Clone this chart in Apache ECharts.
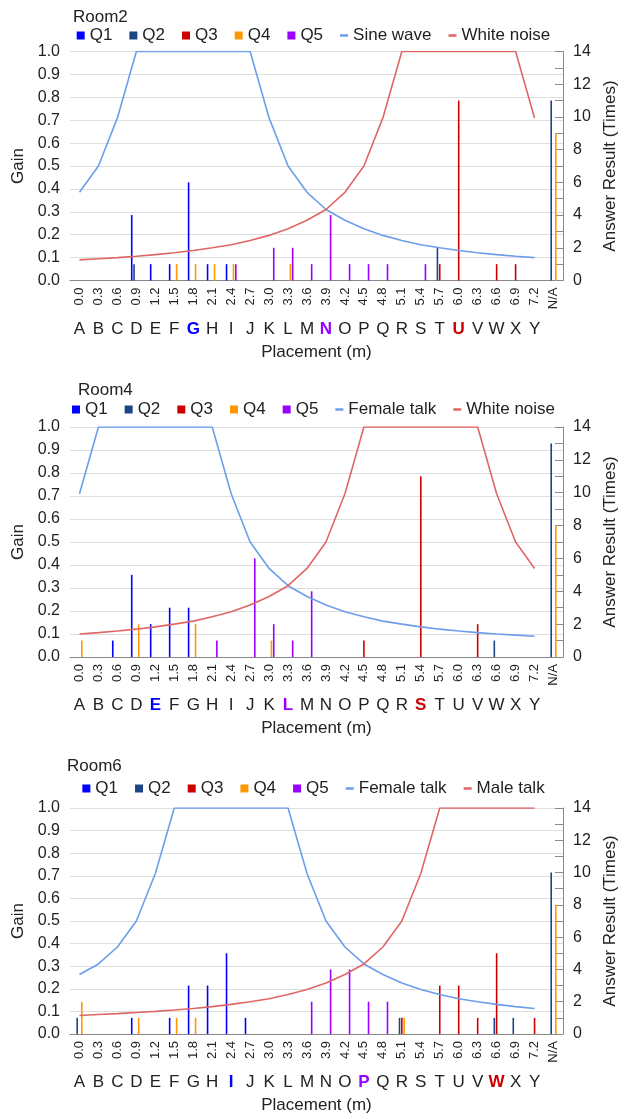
<!DOCTYPE html>
<html>
<head>
<meta charset="utf-8">
<script src="https://cdn.jsdelivr.net/npm/echarts@6/dist/echarts.min.js"></script>
<style>html,body{margin:0;padding:0;background:#fff}#c{width:627px;height:1119px}</style>
</head>
<body>
<div id="c"></div>
<script>
// ---- categories and labels ----
const placements = ['0.0','0.3','0.6','0.9','1.2','1.5','1.8','2.1','2.4','2.7','3.0','3.3','3.6','3.9','4.2','4.5','4.8','5.1','5.4','5.7','6.0','6.3','6.6','6.9','7.2','N/A'];
const letters = ['A','B','C','D','E','F','G','H','I','J','K','L','M','N','O','P','Q','R','S','T','U','V','W','X','Y',''];
const gainTicks = [0,0.1,0.2,0.3,0.4,0.5,0.6,0.7,0.8,0.9,1.0];
const answerTicks = [0,2,4,6,8,10,12,14];
const questionNames = ['Q1','Q2','Q3','Q4','Q5'];
const roomTitles = ['Room2','Room4','Room6'];
const lineNames2 = ['Sine wave','White noise'];
const lineNames4 = ['Female talk','White noise'];
const lineNames6 = ['Female talk','Male talk'];
// highlighted letters: [blue source, purple crossing, red source]
const marks2 = ['G','N','U'];
const marks4 = ['E','L','S'];
const marks6 = ['I','P','W'];

// ---- Room2 answers (times) ----
const r2Q1 = [0,0,0,4,1,1,6,1,1,0,0,0,0,0,0,0,0,0,0,0,0,0,0,0,0,0];
const r2Q2 = [0,0,0,1,0,0,0,0,0,0,0,0,0,0,0,0,0,0,0,2,0,0,0,0,0,11];
const r2Q3 = [0,0,0,0,0,0,0,0,0,0,0,0,0,0,0,0,0,0,0,1,11,0,1,1,0,0];
const r2Q4 = [0,0,0,0,0,1,1,1,1,0,0,1,0,0,0,0,0,0,0,0,0,0,0,0,0,9];
const r2Q5 = [0,0,0,0,0,0,0,0,1,0,2,2,1,4,1,1,1,0,1,0,0,0,0,0,0,0];
// ---- Room2 gains ----
const r2Sine  = [0.385,0.5,0.71,1,1,1,1,1,1,1,0.71,0.5,0.385,0.31,0.263,0.226,0.197,0.175,0.156,0.143,0.131,0.121,0.113,0.106,0.1,null];
const r2Noise = [0.09,0.095,0.1,0.106,0.113,0.121,0.131,0.143,0.156,0.175,0.197,0.226,0.263,0.31,0.385,0.5,0.71,1,1,1,1,1,1,1,0.71,null];

// ---- Room4 answers ----
const r4Q1 = [0,0,1,5,2,3,3,0,0,0,0,0,0,0,0,0,0,0,0,0,0,0,0,0,0,0];
const r4Q2 = [0,0,0,0,0,0,0,0,0,0,0,0,0,0,0,0,0,0,0,0,0,0,1,0,0,13];
const r4Q3 = [0,0,0,0,0,0,0,0,0,0,0,0,0,0,0,1,0,0,11,0,0,2,0,0,0,0];
const r4Q4 = [1,0,0,2,0,0,2,0,0,0,1,0,0,0,0,0,0,0,0,0,0,0,0,0,0,8];
const r4Q5 = [0,0,0,0,0,0,0,1,0,6,2,1,4,0,0,0,0,0,0,0,0,0,0,0,0,0];
// ---- Room4 gains ----
const r4Female = [0.71,1,1,1,1,1,1,1,0.71,0.5,0.385,0.31,0.263,0.226,0.197,0.175,0.156,0.143,0.131,0.121,0.113,0.106,0.1,0.095,0.09,null];
const r4Noise  = [0.1,0.106,0.113,0.121,0.131,0.143,0.156,0.175,0.197,0.226,0.263,0.31,0.385,0.5,0.71,1,1,1,1,1,1,1,0.71,0.5,0.385,null];

// ---- Room6 answers ----
const r6Q1 = [0,0,0,1,0,1,3,3,5,1,0,0,0,0,0,0,0,0,0,0,0,0,0,0,0,0];
const r6Q2 = [1,0,0,0,0,0,0,0,0,0,0,0,0,0,0,0,0,1,0,0,0,0,1,1,0,10];
const r6Q3 = [0,0,0,0,0,0,0,0,0,0,0,0,0,0,0,0,0,1,0,3,3,1,5,0,1,0];
const r6Q4 = [2,0,0,1,0,1,1,0,0,0,0,0,0,0,0,0,0,1,0,0,0,0,0,0,0,8];
const r6Q5 = [0,0,0,0,0,0,0,0,0,0,0,0,2,4,4,2,2,0,0,0,0,0,0,0,0,0];
// ---- Room6 gains ----
const r6Female = [0.263,0.31,0.385,0.5,0.71,1,1,1,1,1,1,1,0.71,0.5,0.385,0.31,0.263,0.226,0.197,0.175,0.156,0.143,0.131,0.121,0.113,null];
const r6Male   = [0.082,0.086,0.09,0.095,0.1,0.106,0.113,0.121,0.131,0.143,0.156,0.175,0.197,0.226,0.263,0.31,0.385,0.5,0.71,1,1,1,1,1,1,null];

// ---- styling ----
const FONT = '"Liberation Sans", Arial, sans-serif';
const TXT = '#222222';
const qColors = ['#0000ff','#1c4587','#cc0000','#ff9900','#9900ff'];
const blueLine = '#6d9eeb';
const redLine = '#e06666';
const SQ = 'path://M0,0H10V10H0Z';
const LN = 'path://M0,0H0.01V0.01H0Z M9.99,9.99H10V10H9.99Z M0,3.4H10V6.6H0Z';

const rooms = [
  {q:[r2Q1,r2Q2,r2Q3,r2Q4,r2Q5], lines:[r2Sine,r2Noise], names:lineNames2, marks:marks2,
   top:51.5, h:229, titleTop:4, titleLeft:68, legendTop:22},
  {q:[r4Q1,r4Q2,r4Q3,r4Q4,r4Q5], lines:[r4Female,r4Noise], names:lineNames4, marks:marks4,
   top:427, h:230, titleTop:377, titleLeft:73, legendTop:396},
  {q:[r6Q1,r6Q2,r6Q3,r6Q4,r6Q5], lines:[r6Female,r6Male], names:lineNames6, marks:marks6,
   top:808, h:226, titleTop:753, titleLeft:62, legendTop:775}
];

const option = {
  animation:false,
  backgroundColor:'#ffffff',
  textStyle:{fontFamily:FONT, color:TXT},
  title:[], legend:[], grid:[], xAxis:[], yAxis:[], series:[]
};

rooms.forEach((r, i) => {
  option.title.push({text: roomTitles[i], left: r.titleLeft, top: r.titleTop,
    textStyle:{fontFamily:FONT, fontSize:17, fontWeight:'normal', color:TXT}});
  const ldata = questionNames.map(n => ({name:n, icon:SQ}))
    .concat(r.names.map(n => ({name:n, icon:LN})));
  option.legend.push({data: ldata, left:'center', top: r.legendTop, itemWidth:8, itemHeight:8,
    itemGap:17, textStyle:{fontFamily:FONT, fontSize:17, color:TXT}, selectedMode:false});
  option.grid.push({left:70, right:64, top:r.top, height:r.h});
  // numeric placement axis
  option.xAxis.push({type:'category', gridIndex:i, data:placements, position:'bottom',
    axisLine:{lineStyle:{color:'#888888', width:1}}, axisTick:{show:false},
    axisLabel:{rotate:90, fontSize:13, color:TXT, fontFamily:FONT, margin:7, interval:0}});
  // letter axis
  const mk = r.marks;
  option.xAxis.push({type:'category', gridIndex:i, data:letters, position:'bottom', offset:30,
    axisLine:{show:false}, axisTick:{show:false},
    name:'Placement (m)', nameLocation:'middle', nameGap:33,
    nameTextStyle:{fontFamily:FONT, fontSize:17, color:TXT},
    axisLabel:{interval:0, margin:10, fontSize:17, color:TXT, fontFamily:FONT,
      formatter:(v) => v === mk[0] ? '{b|'+v+'}' : v === mk[1] ? '{p|'+v+'}' : v === mk[2] ? '{r|'+v+'}' : v,
      rich:{
        b:{color:'#0000ff', fontWeight:'bold', fontSize:17, fontFamily:FONT},
        p:{color:'#9900ff', fontWeight:'bold', fontSize:17, fontFamily:FONT},
        r:{color:'#cc0000', fontWeight:'bold', fontSize:17, fontFamily:FONT}
      }}});
  // gain axis (left)
  option.yAxis.push({type:'value', gridIndex:i, min:gainTicks[0], max:gainTicks[gainTicks.length-1], interval:0.1,
    name:'Gain', nameLocation:'middle', nameGap:35, nameRotate:90,
    nameTextStyle:{fontFamily:FONT, fontSize:17, color:TXT},
    axisLine:{show:false}, axisTick:{show:false},
    axisLabel:{fontSize:16, color:TXT, fontFamily:FONT, margin:10, formatter:(v)=>v.toFixed(1)},
    splitLine:{lineStyle:{color:'#dedede', width:1}}});
  // answer axis (right)
  option.yAxis.push({type:'value', gridIndex:i, position:'right', min:answerTicks[0], max:answerTicks[answerTicks.length-1], interval:1,
    name:'Answer Result (Times)', nameLocation:'middle', nameGap:37, nameRotate:90,
    nameTextStyle:{fontFamily:FONT, fontSize:17, color:TXT},
    axisLine:{show:true, lineStyle:{color:'#8a8a8a', width:1}},
    axisTick:{show:true, inside:true, length:8, lineStyle:{color:'#8a8a8a'}},
    axisLabel:{fontSize:16, color:TXT, fontFamily:FONT, margin:10,
      formatter:(v)=> answerTicks.indexOf(v) >= 0 ? String(v) : ''},
    splitLine:{show:false}});
  // bars
  r.q.forEach((arr, qi) => {
    option.series.push({type:'bar', name:questionNames[qi], xAxisIndex:i*2, yAxisIndex:i*2+1,
      data:arr, barWidth:1.6, barGap:'45%', itemStyle:{color:qColors[qi]}, z:2});
  });
  // lines
  r.lines.forEach((arr, li) => {
    option.series.push({type:'line', name:r.names[li], xAxisIndex:i*2, yAxisIndex:i*2,
      data:arr, showSymbol:false, symbol:'none', lineStyle:{width:1.6, color: li===0?blueLine:redLine},
      itemStyle:{color: li===0?blueLine:redLine}, z:3});
  });
});

const chart = echarts.init(document.getElementById('c'), null, {renderer:'canvas'});
chart.setOption(option);
</script>
</body>
</html>
